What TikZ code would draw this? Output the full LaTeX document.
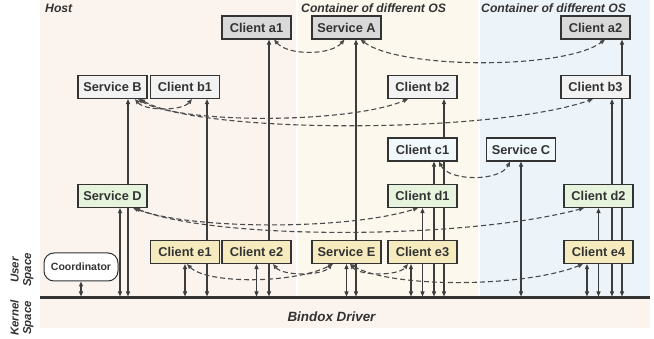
\documentclass[tikz,border=0pt]{standalone}
\usepackage{fontspec}
\setmainfont{Liberation Sans}
\usetikzlibrary{arrows.meta,calc}
\pgfdeclarelayer{bg}
\pgfdeclarelayer{lines}
\pgfsetlayers{bg,lines,main}
\definecolor{ink}{HTML}{333333}
\definecolor{lineclr}{HTML}{3C3C3C}
\definecolor{dashclr}{HTML}{4A4A4A}
\definecolor{hostbg}{HTML}{FAF3EE}
\definecolor{contAbg}{HTML}{FCF8EE}
\definecolor{contBbg}{HTML}{EDF4F9}
\definecolor{fillA}{HTML}{D9D9D9}
\definecolor{fillB}{HTML}{F2F2F2}
\definecolor{fillC}{HTML}{F0F8FB}
\definecolor{fillD}{HTML}{E7F4DD}
\definecolor{fillE}{HTML}{F6EBBE}
\begin{document}
\begin{tikzpicture}[x=1pt,y=-1pt,
  box/.style={draw=ink, line width=1.1pt, minimum width=69pt, minimum height=23pt,
    inner sep=0pt, text=ink, font=\bfseries\fontsize{12.8}{14}\selectfont},
  coordbox/.style={draw=ink, line width=1pt, rounded corners=10pt, fill=white,
    minimum width=74pt, minimum height=28pt, inner sep=0pt, text=ink,
    font=\bfseries\fontsize{10.5}{12}\selectfont},
  lbl/.style={text=ink, inner sep=1pt, font=\bfseries\itshape\fontsize{12.2}{14}\selectfont},
  sidelbl/.style={text=ink, inner sep=0pt, rotate=90, align=center,
    font=\bfseries\itshape\fontsize{11.5}{12.5}\selectfont},
  tip/.tip={Triangle[length=5pt,width=4pt]},
  sarr/.style={draw=lineclr, line width=1.1pt, {tip}-{tip}},
  dsh/.style={draw=dashclr, line width=1.1pt, dash pattern=on 5pt off 3pt, {tip}-{tip}}]
\useasboundingbox (0,0) rectangle (654,339);

% backgrounds
\begin{pgfonlayer}{bg}
  \fill[hostbg] (40,0) rectangle (295.5,297);
  \fill[contAbg] (297.5,0) rectangle (477.5,297);
  \fill[contBbg] (479.5,0) rectangle (650,297);
  \fill[hostbg] (40,299.5) rectangle (650,328);
\end{pgfonlayer}

% region labels
\node[lbl, anchor=west] (lhost) at (44,8) {Host};
\node[lbl, anchor=west] (lcA) at (300,8) {Container of different OS};
\node[lbl, anchor=west] (lcB) at (480,8) {Container of different OS};
\node[sidelbl] (luser) at (22,270) {User\\Space};
\node[sidelbl] (lkernel) at (22,318) {Kernel\\Space};
\node[lbl, font=\bfseries\itshape\fontsize{13.4}{15}\selectfont] (driver) at (331.5,316.5) {Bindox Driver};

% bus
\coordinate (busL) at (40,298);
\coordinate (busR) at (650,298);
\coordinate (bus) at (0,296.5);
\begin{pgfonlayer}{lines}
  \draw[ink, line width=3pt] (busL) -- (busR);
\end{pgfonlayer}

% nodes
\node[box, fill=fillA] (a1) at (256.5,27.5) {Client a1};
\node[box, fill=fillA] (SA) at (346.5,27.5) {Service A};
\node[box, fill=fillA] (a2) at (595.5,27.5) {Client a2};

\node[box, fill=fillB] (SB) at (112.5,87) {Service B};
\node[box, fill=fillB] (b1) at (185,87) {Client b1};
\node[box, fill=fillB] (b2) at (422.5,87) {Client b2};
\node[box, fill=fillB] (b3) at (595.5,87) {Client b3};

\node[box, fill=fillC] (c1) at (422.5,149.5) {Client c1};
\node[box, fill=fillC] (SC) at (521,149.5) {Service C};

\node[box, fill=fillD] (SD) at (112.5,196) {Service D};
\node[box, fill=fillD] (d1) at (422.5,196) {Client d1};
\node[box, fill=fillD] (d2) at (598.5,196) {Client d2};

\node[box, fill=fillE] (e1) at (185,252) {Client e1};
\node[box, fill=fillE] (e2) at (256.5,252) {Client e2};
\node[box, fill=fillE] (SE) at (346.5,252) {Service E};
\node[box, fill=fillE] (e3) at (422.5,252) {Client e3};
\node[box, fill=fillE] (e4) at (598.5,252) {Client e4};

\node[coordbox] (coord) at (81,267) {Coordinator};

% vertical connectors to the driver bus
\begin{pgfonlayer}{lines}
\foreach \nd/\dx in {coord/0, SD/7.5, SB/15.5, e1/0, b1/22, e2/0, a1/12.5,
    SE/0, SA/9.5, e3/-11.5, d1/0, c1/11.5, b2/21.5, SC/0,
    e4/-11.5, d2/0, b3/16.5, a2/26.5}
  \draw[sarr] ($(\nd.south)+(\dx,0)$) -- ($(\nd.south |- bus)+(\dx,0)$);

% dashed communication curves
\draw[dsh] ($(SA.south)+(-2,0)$) .. controls +(-14,16) and +(14,16) .. ($(a1.south)+(17.5,0)$);
\draw[dsh] ($(SA.south)+(14,0)$) .. controls +(40,30) and +(-40,30) .. ($(a2.south)+(9.5,0)$);
\draw[dsh] ($(SB.south)+(22.5,0)$) .. controls +(10,12) and +(-10,12) .. ($(b1.south)+(7,0)$);
\draw[dsh] ($(SB.south)+(25.5,0)$) .. controls +(40,25) and +(-60,25) .. ($(b2.south)+(-14.5,0)$);
\draw[dsh] ($(SB.south)+(27.5,0)$) .. controls +(60,35) and +(-100,35) .. ($(b3.south)+(-2.5,0)$);
\draw[dsh] ($(c1.south)+(16.5,0)$) .. controls +(10,20) and +(-10,20) .. ($(SC.south)+(-11,0)$);
\draw[dsh] ($(SD.south)+(20.5,0)$) .. controls +(60,22) and +(-70,22) .. ($(d1.south)+(-4.5,0)$);
\draw[dsh] ($(SD.south)+(22.5,0)$) .. controls +(80,32) and +(-120,32) .. ($(d2.south)+(-14.5,0)$);
\draw[dsh] ($(e1.south)+(2,0)$) .. controls +(20,20) and +(-40,20) .. ($(SE.south)+(-13.5,0)$);
\draw[dsh] ($(e2.south)+(16.5,0)$) .. controls +(10,12) and +(-10,12) .. ($(SE.south)+(-14.5,0)$);
\draw[dsh] ($(SE.south)+(3.5,0)$) .. controls +(10,12) and +(-10,12) .. ($(e3.south)+(-14.5,0)$);
\draw[dsh] ($(SE.south)+(3.5,0)$) .. controls +(40,24) and +(-60,24) .. ($(e4.south)+(-15.5,0)$);
\end{pgfonlayer}
\end{tikzpicture}
\end{document}
